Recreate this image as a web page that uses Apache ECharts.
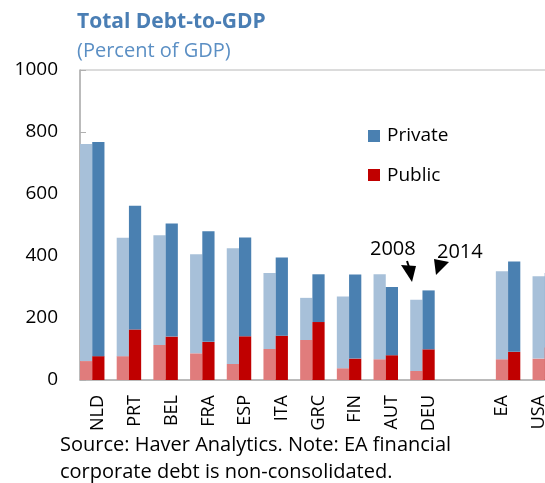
<!DOCTYPE html>
<html>
<head>
<meta charset="utf-8">
<script src="https://cdn.jsdelivr.net/npm/echarts@6/dist/echarts.min.js"></script>
<style>
html,body{margin:0;padding:0;background:#fff;}
#chart{width:545px;height:483px;}
</style>
</head>
<body>
<div id="chart"></div>
<script>
const categories = ['NLD','PRT','BEL','FRA','ESP','ITA','GRC','FIN','AUT','DEU','','EA','USA'];
const public2008  = [61, 77, 113, 86, 52, 100, 129, 38, 67, 29, null, 67, 69];
const private2008 = [700, 382, 354, 320, 373, 245, 136, 231, 274, 230, null, 284, 266];
const public2014  = [77, 163, 140, 123, 141, 143, 187, 69, 80, 99, null, 91, 105];
const private2014 = [691, 399, 365, 357, 319, 252, 154, 271, 220, 190, null, 291, 240];
const yTicks = [0, 200, 400, 600, 800, 1000];
// aggregates drawn one slot further right
const aggregates = ['EA', 'USA'];

const FONT = '"Open Sans", sans-serif';
const C = {
  priv08: '#a7c0d9', priv14: '#4a80b1',
  pub08: '#e07c7c', pub14: '#c00000'
};

function slotData(slot, kind) {
  return categories.map((c, i) => {
    const agg = aggregates.indexOf(c) >= 0;
    const s08 = agg ? 1 : 0, s14 = agg ? 2 : 1;
    if (slot === s08) {
      const v = kind === 'pub' ? public2008[i] : private2008[i];
      return v == null ? '-' : {value: v, itemStyle: {color: kind === 'pub' ? C.pub08 : C.priv08}};
    }
    if (slot === s14) {
      const v = kind === 'pub' ? public2014[i] : private2014[i];
      return v == null ? '-' : {value: v, itemStyle: {color: kind === 'pub' ? C.pub14 : C.priv14}};
    }
    return '-';
  });
}

const series = [];
['a', 'b', 'c'].forEach((st, slot) => {
  series.push({type: 'bar', stack: st, data: slotData(slot, 'pub'), barGap: '0%', barCategoryGap: '0%', silent: true});
  series.push({type: 'bar', stack: st, data: slotData(slot, 'priv'), barGap: '0%', barCategoryGap: '0%', silent: true});
});

const chart = echarts.init(document.getElementById('chart'));
chart.setOption({
  animation: false,
  backgroundColor: '#fff',
  textStyle: {fontFamily: FONT},
  grid: {left: 80, top: 70, width: 477, height: 310, show: true, borderColor: '#b8b8b8', borderWidth: 1, containLabel: false, outerBoundsMode: 'none'},
  xAxis: {
    type: 'category', data: categories,
    axisLine: {lineStyle: {color: '#b0b0b0', width: 1.5}},
    axisTick: {show: false},
    axisLabel: {rotate: 90, fontSize: 18, color: '#000', margin: 15, fontFamily: FONT, interval: 0}
  },
  yAxis: {
    type: 'value', min: yTicks[0], max: yTicks[yTicks.length - 1], interval: 200,
    axisLine: {show: true, lineStyle: {color: '#b0b0b0', width: 1.5}},
    axisTick: {show: true, inside: true, length: 6, lineStyle: {color: '#b0b0b0'}},
    splitLine: {show: false},
    axisLabel: {fontSize: 19, color: '#000', margin: 22, fontFamily: FONT, formatter: v => String(v)}
  },
  series: series,
  graphic: [
    {type: 'text', left: 77, top: 12, style: {text: 'Total Debt-to-GDP', font: 'bold 21px ' + FONT, fill: '#4a7eb4'}},
    {type: 'text', left: 77, top: 41, style: {text: '(Percent of GDP)', font: '20px ' + FONT, fill: '#5b8fc4'}},
    {type: 'rect', shape: {x: 368, y: 130, width: 12, height: 12}, style: {fill: C.priv14}},
    {type: 'text', x: 387, y: 136, style: {text: 'Private', font: '19px ' + FONT, fill: '#000', verticalAlign: 'middle'}},
    {type: 'rect', shape: {x: 368, y: 169, width: 12, height: 12}, style: {fill: C.pub14}},
    {type: 'text', x: 387, y: 176, style: {text: 'Public', font: '19px ' + FONT, fill: '#000', verticalAlign: 'middle'}},
    {type: 'text', x: 370, y: 249, style: {text: '2008', font: '20px ' + FONT, fill: '#000', verticalAlign: 'middle'}},
    {type: 'text', x: 437, y: 252, style: {text: '2014', font: '20px ' + FONT, fill: '#000', verticalAlign: 'middle'}},
    {type: 'polygon', shape: {points: [[401, 265], [416, 266], [412, 282]]}, style: {fill: '#000'}},
    {type: 'line', shape: {x1: 407, y1: 261, x2: 409, y2: 267}, style: {stroke: '#000', lineWidth: 2}},
    {type: 'polygon', shape: {points: [[434, 259], [449, 262], [436, 275]]}, style: {fill: '#000'}},
    {type: 'text', x: 60, y: 445, style: {text: 'Source: Haver Analytics. Note: EA financial', font: '20px ' + FONT, fill: '#000', verticalAlign: 'middle'}},
    {type: 'text', x: 60, y: 472, style: {text: 'corporate debt is non-consolidated.', font: '20px ' + FONT, fill: '#000', verticalAlign: 'middle'}}
  ]
});
</script>
</body>
</html>
